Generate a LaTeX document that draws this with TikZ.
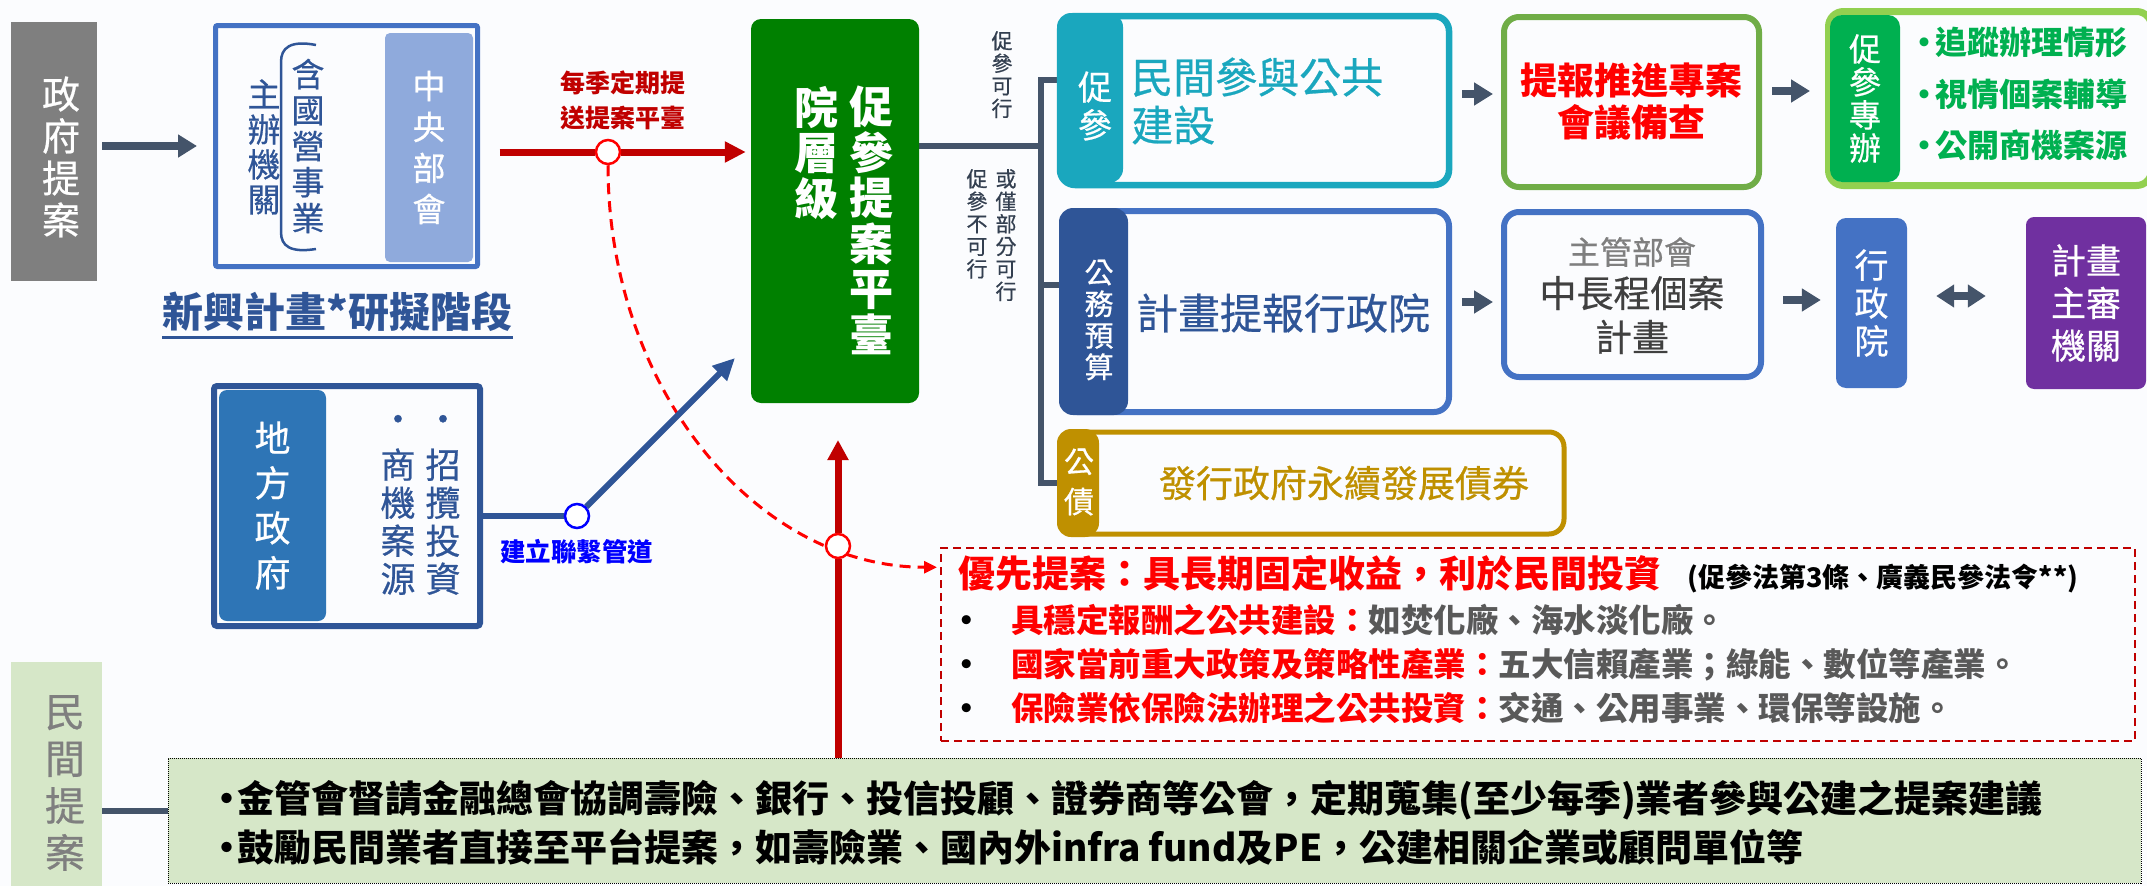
\documentclass[tikz,border=0pt]{standalone}
\usepackage{fontspec}
\setmainfont{Noto Sans CJK TC}[UprightFeatures={FakeBold=0.6}]
\usetikzlibrary{arrows.meta,positioning}
\definecolor{bg}{HTML}{FBFCFE}
\definecolor{slate}{HTML}{44546A}
\definecolor{slatetext}{HTML}{333F50}
\definecolor{gov}{HTML}{7F7F7F}
\definecolor{midblue}{HTML}{4472C4}
\definecolor{darkblue}{HTML}{2F5597}
\definecolor{paleblue}{HTML}{8FAADC}
\definecolor{localblue}{HTML}{2E75B6}
\definecolor{darkred}{HTML}{C00000}
\definecolor{brightred}{HTML}{FF0000}
\definecolor{platform}{HTML}{008000}
\definecolor{ppteal}{HTML}{1AA7BE}
\definecolor{leafgreen}{HTML}{70AD47}
\definecolor{limegreen}{HTML}{92D050}
\definecolor{tabgreen}{HTML}{00B050}
\definecolor{royal}{HTML}{7030A0}
\definecolor{gold}{HTML}{BF9000}
\definecolor{mint}{HTML}{D6E7C8}
\definecolor{textgray}{HTML}{595959}
\definecolor{inkgray}{HTML}{404040}
\pgfdeclarelayer{back}
\pgfsetlayers{back,main}
\newcommand{\fsz}[2]{\fontsize{#1}{#2}\selectfont}

\begin{document}
\begin{tikzpicture}[x=1pt,y=-1pt,
	main node/.style={inner sep=0pt,align=center},
	box node/.style={draw,line width=6pt,rounded corners=15pt,fill=bg,inner sep=0pt,align=center},
	tab node/.style={rounded corners=14pt,inner sep=0pt,text=white,align=center},
	arrow line/.style={draw=slate,line width=8pt,-{Triangle[length=19pt,width=22pt]}},
	both arrow line/.style={draw=slate,line width=8pt,{Triangle[length=18pt,width=22pt]}-{Triangle[length=18pt,width=22pt]}},
	conn line/.style={draw=slate,line width=6pt},
	red line/.style={draw=darkred,line width=7pt},
	blue line/.style={draw=darkblue,line width=6pt},
	ring node/.style={circle,draw,line width=2.5pt,fill=white,minimum size=24pt,inner sep=0pt}]
			
			\path[use as bounding box] (0,0) rectangle (2147,886);
			
			\node[main node,fill=gov,minimum width=86pt,minimum height=259pt] (1) at (54,151.5) {};
			\node[main node,text=white,font=\fsz{38}{42}] (2) at (61,157) {政\\府\\提\\案};
			
			\node[box node,draw=midblue,line width=5pt,rounded corners=2pt,minimum width=262pt,minimum height=241pt] (3) at (346.5,146) {};
			\node[main node,text=darkblue,font=\fsz{33}{35}] (4) at (264,147) {主\\辦\\機\\關};
			\node[main node,text=darkblue,font=\fsz{33}{36}] (5) at (308,146) {含\\國\\營\\事\\業};
			\draw[darkblue,line width=2.5pt] (316,45) .. controls (290,40) and (281,48) .. (281,62) -- (281,232) .. controls (281,246) and (290,253) .. (316,249);
			\node[main node,fill=paleblue,rounded corners=5pt,minimum width=88pt,minimum height=229pt,text=white,font=\fsz{33}{41}] (6) at (429,147.5) {中\\央\\部\\會};
			\node[main node,text=darkblue,font=\bfseries\fsz{41}{41}] (7) at (337.5,312) {新興計畫*研擬階段};
			\draw[darkblue,line width=3pt] ([yshift=-5pt]7.south west) -- ([yshift=-5pt]7.south east);
			
			\node[main node,text=darkred,font=\bfseries\fsz{25}{35}] (8) at (623,100) {每季定期提\\送提案平臺};
			\node[ring node,draw=brightred] (12) at (608,152) {};
			
			\node[main node,fill=platform,rounded corners=10pt,minimum width=168pt,minimum height=384pt] (9) at (835,211) {};
			\node[main node,text=white,font=\bfseries\fsz{44}{45.5},anchor=north] (10) at (871,86) {促\\參\\提\\案\\平\\臺};
			\node[main node,text=white,font=\bfseries\fsz{44}{45.5},anchor=north] (11) at (816,86) {院\\層\\級};
			
			\node[main node,text=slatetext,font=\fsz{21}{22.5},anchor=north] (13) at (1002,31) {促\\參\\可\\行};
			\node[main node,text=slatetext,font=\fsz{21}{22.5},anchor=north] (14) at (1006,169) {或\\僅\\部\\分\\可\\行};
			\node[main node,text=slatetext,font=\fsz{21}{22.5},anchor=north] (15) at (977,169) {促\\參\\不\\可\\行};
			
			\node[box node,draw=ppteal,line width=6.5pt,minimum width=389pt,minimum height=169pt] (16) at (1254.5,100.5) {};
			\node[tab node,fill=ppteal,minimum width=66pt,minimum height=170pt] (17) at (1090,98) {};
			\node[main node,text=white,font=\fsz{34}{38}] (18) at (1095,106) {促\\參};
			\node[main node,text=ppteal,font=\fsz{42}{48},align=left,anchor=west] (19) at (1131,101) {民間參與公共\\建設};
			
			\node[box node,draw=midblue,minimum width=387pt,minimum height=201pt] (20) at (1255.5,311.5) {};
			\node[tab node,fill=darkblue,minimum width=69pt,minimum height=207pt] (21) at (1093.5,311.5) {};
			\node[main node,text=white,font=\fsz{29}{31.5}] (22) at (1099,320) {公\\務\\預\\算};
			\node[main node,text=darkblue,font=\fsz{42}{42}] (23) at (1283,313) {計畫提報行政院};
			
			\node[box node,draw=gold,line width=5pt,minimum width=504pt,minimum height=102pt] (24) at (1312,483) {};
			\node[tab node,fill=gold,minimum width=42pt,minimum height=108pt] (25) at (1078,483) {};
			\node[main node,text=white,font=\fsz{30}{40}] (26) at (1079,482) {公\\債};
			\node[main node,text=gold,font=\fsz{37}{37}] (27) at (1344,483) {發行政府永續發展債券};
			
			\node[box node,draw=leafgreen,minimum width=255pt,minimum height=170pt,text=brightred,font=\bfseries\fsz{37}{42}] (28) at (1631.5,102) {提報推進專案\\會議備查};
			\node[box node,draw=limegreen,line width=7pt,minimum width=323pt,minimum height=174pt] (29) at (1990,98.5) {};
			\node[tab node,fill=tabgreen,rounded corners=12pt,minimum width=70pt,minimum height=167pt,font=\fsz{32}{33}] (30) at (1865,98.5) {促\\參\\專\\辦};
			\node[main node,text=tabgreen,font=\bfseries\fsz{32}{51.5},align=left,anchor=west] (31) at (1913,94) {\makebox[22pt][c]{•}追蹤辦理情形\\\makebox[22pt][c]{•}視情個案輔導\\\makebox[22pt][c]{•}公開商機案源};
			
			\node[box node,draw=midblue,minimum width=257pt,minimum height=165pt] (32) at (1632.5,294.5) {};
			\node[main node,text=gov,font=\fsz{32}{32}] (33) at (1632,252) {主管部會};
			\node[main node,text=inkgray,font=\fsz{37}{44}] (34) at (1632,315) {中長程個案\\計畫};
			\node[main node,fill=midblue,rounded corners=10pt,minimum width=71pt,minimum height=170pt,text=white,font=\fsz{34}{38}] (35) at (1871.5,303) {行\\政\\院};
			\node[main node,fill=royal,rounded corners=8pt,minimum width=120pt,minimum height=172pt,text=white,font=\fsz{35}{42.5}] (36) at (2086,303) {計畫\\主審\\機關};
			
			\node[box node,draw=darkblue,rounded corners=3pt,minimum width=266pt,minimum height=240pt] (37) at (347,506) {};
			\node[tab node,fill=localblue,rounded corners=8pt,minimum width=107pt,minimum height=231pt,font=\fsz{36}{45}] (38) at (272.5,505.5) {地\\方\\政\\府};
			\node[main node,text=darkblue,font=\fsz{35}{38},anchor=south] (39) at (443,595) {•\\[8pt]招\\攬\\投\\資};
			\node[main node,text=darkblue,font=\fsz{35}{38},anchor=south] (40) at (398,595) {•\\[8pt]商\\機\\案\\源};
			\node[ring node,draw=blue] (41) at (577,516) {};
			\node[main node,text=blue,font=\bfseries\fsz{25.5}{25.5}] (42) at (576.5,552) {建立聯繫管道};
			\coordinate (43) at (735,358);
			
			\node[ring node,draw=brightred] (44) at (838,546) {};
			\coordinate (45) at (838,440);
			
			\node[main node,draw=darkred,line width=2.5pt,dash pattern=on 8pt off 5pt,minimum width=1194pt,minimum height=193pt] (46) at (1538,644.5) {};
			\node[main node,text=brightred,font=\bfseries\fsz{37}{37},anchor=west] (47) at (958,573) {優先提案：具長期固定收益，利於民間投資};
			\node[main node,font=\bfseries\fsz{27}{27},base right=26pt of 47] (48) {(促參法第3條、廣義民參法令**)};
			\node[main node,font=\bfseries\fsz{32.5}{44},align=left,anchor=west] (49) at (950,664) {\makebox[61pt][l]{•}\textcolor{brightred}{具穩定報酬之公共建設：}\textcolor{textgray}{如焚化廠、海水淡化廠。}\\\makebox[61pt][l]{•}\textcolor{brightred}{國家當前重大政策及策略性產業：}\textcolor{textgray}{五大信賴產業；綠能、數位等產業。}\\\makebox[61pt][l]{•}\textcolor{brightred}{保險業依保險法辦理之公共投資：}\textcolor{textgray}{交通、公用事業、環保等設施。}};
			
			\node[main node,fill=mint,draw=black,densely dotted,line width=1pt,minimum width=1973pt,minimum height=125pt] (50) at (1154.5,820.5) {};
			\node[main node,font=\bfseries\fsz{37}{49},align=left,anchor=west] (51) at (216,822.5) {\makebox[21pt][c]{•}金管會督請金融總會協調壽險、銀行、投信投顧、證券商等公會，定期蒐集(至少每季)業者參與公建之提案建議\\\makebox[21pt][c]{•}鼓勵民間業者直接至平台提案，如壽險業、國內外infra fund及PE，公建相關企業或顧問單位等};
			\node[main node,fill=mint,minimum width=91pt,minimum height=240pt] (52) at (56.5,782) {};
			\node[main node,text=gov,font=\fsz{40}{47}] (53) at (65,783) {民\\間\\提\\案};
			
			\coordinate (54) at (1041,146);
			
			\begin{pgfonlayer}{back}
			\fill[bg] (0,0) rectangle (2147,886);
			\draw[arrow line,shorten <=5pt,shorten >=16pt] (1.east |- 3) -- (3.west);
			\draw[arrow line,shorten <=8pt,shorten >=5pt] (5.east) -- (5.east -| 6.west);
			\draw[red line,shorten <=19.5pt] (3.east |- 12) -- (12);
			\draw[red line,-{Triangle[length=21pt,width=20pt]},shorten >=5pt] (12) -- (9.west |- 12);
			\draw[brightred,line width=3pt,dash pattern=on 11pt off 7pt,-{Triangle[length=13pt,width=12pt]}] (12.south) arc[start angle=180,end angle=270,x radius=329pt,y radius=402pt];
			\draw[red line] (50.north -| 44) -- (44);
			\draw[red line,-{Triangle[length=20pt,width=20pt]}] (44) -- (45);
			\draw[blue line] (37.east |- 41) -- (41);
			\draw[blue line,-{Triangle[length=22pt,width=20pt]}] (41) -- (43);
			\draw[conn line] (9.east |- 54) -- (54);
			\draw[conn line] ([yshift=18pt]17.west) -| (54);
			\draw[conn line] ([yshift=26.5pt]21.west) -| (54);
			\draw[conn line] (25.west) -| (54);
			\draw[arrow line,shorten <=10pt,shorten >=8pt] ([yshift=6.5pt]16.east) -- ([yshift=8pt]28.west);
			\draw[arrow line,shorten <=10pt,shorten >=15pt] ([yshift=11pt]28.east) -- ([yshift=7.5pt]29.west);
			\draw[arrow line,shorten <=10pt,shorten >=8pt] ([yshift=9.5pt]20.east) -- ([yshift=-7.5pt]32.west);
			\draw[arrow line,shorten <=19pt,shorten >=15pt] ([yshift=-5.5pt]32.east) -- ([yshift=3pt]35.west);
			\draw[both arrow line,shorten <=29pt,shorten >=40pt] ([yshift=7pt]35.east) -- ([yshift=7pt]36.west);
			\draw[conn line] ([yshift=-29pt]52.east) -- ([yshift=9.5pt]50.west);
			\end{pgfonlayer}
			\end{tikzpicture}
\end{document}
